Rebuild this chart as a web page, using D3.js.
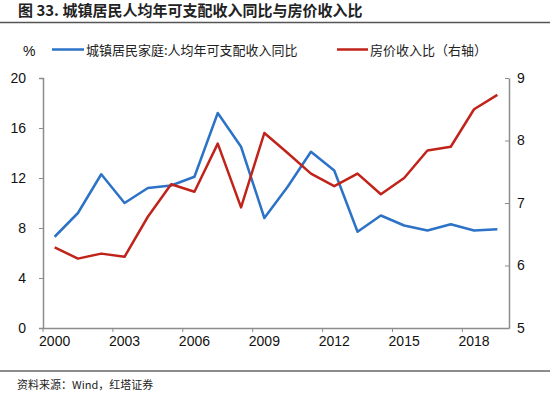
<!DOCTYPE html>
<html>
<head>
<meta charset="utf-8">
<script src="https://cdn.jsdelivr.net/npm/d3@7"></script>
<style>
body { margin: 0; background: #fff; }
svg text { font-family: "Liberation Sans", Arial, sans-serif; }
.cjk { font-family: "Noto Sans CJK SC", sans-serif; }
</style>
</head>
<body>
<svg id="chart" width="550" height="399"></svg>
<script>
// data
var years = d3.range(2000, 2020).map(String);
var tickYears = ['2000','2003','2006','2009','2012','2015','2018'];
var incomeGrowth = [7.3, 9.2, 12.3, 10.0, 11.2, 11.4, 12.1, 17.2, 14.5, 8.8,
                    11.3, 14.1, 12.6, 7.7, 9.0, 8.2, 7.8, 8.3, 7.8, 7.9];
var priceIncomeRatio = [6.29, 6.11, 6.19, 6.14, 6.78, 7.30, 7.18, 7.95, 6.93, 8.12,
                        7.80, 7.47, 7.27, 7.47, 7.14, 7.40, 7.84, 7.90, 8.50, 8.73];
var leftTicks = [0, 4, 8, 12, 16, 20];
var rightTicks = [5, 6, 7, 8, 9];

var colorBlue = '#2C72C7';
var colorRed = '#C0231A';
var colorAxis = '#8c8c8c';

var svg = d3.select('#chart');

var plotLeft = 43, plotRight = 509, plotTop = 78, plotBottom = 328;

var x = d3.scaleBand().domain(years).range([plotLeft, plotRight]);
var yL = d3.scaleLinear().domain([0, 20]).range([plotBottom, plotTop]);
var yR = d3.scaleLinear().domain([5, 9]).range([plotBottom, plotTop]);

// title
svg.append('text')
   .attr('class','cjk')
   .text('图 33. 城镇居民人均年可支配收入同比与房价收入比')
   .attr('x', 18)
   .attr('y', 16)
   .style('font-size', 15)
   .style('font-weight', 'bold')
   .style('fill', '#222');
svg.append('line')
   .attr('x1', 0).attr('x2', 550)
   .attr('y1', 22.5).attr('y2', 22.5)
   .attr('stroke', '#555')
   .attr('stroke-width', 1.5);

// legend
svg.append('text')
   .text('%')
   .attr('x', 23)
   .attr('y', 56)
   .style('font-size', 14)
   .style('fill', '#111');
svg.append('line')
   .attr('x1', 52).attr('x2', 84).attr('y1', 49.5).attr('y2', 49.5)
   .attr('stroke', colorBlue).attr('stroke-width', 2.5);
svg.append('text')
   .attr('class','cjk')
   .text('城镇居民家庭:人均年可支配收入同比')
   .attr('x', 86)
   .attr('y', 55)
   .style('font-size', 13)
   .style('fill', '#222');
svg.append('line')
   .attr('x1', 337).attr('x2', 368).attr('y1', 49.5).attr('y2', 49.5)
   .attr('stroke', colorRed).attr('stroke-width', 2.5);
svg.append('text')
   .attr('class','cjk')
   .text('房价收入比（右轴）')
   .attr('x', 370)
   .attr('y', 55)
   .style('font-size', 13)
   .style('fill', '#222');

// left axis
var axisL = svg.append('g')
               .attr('transform', 'translate(' + plotLeft + ',0)')
               .call(d3.axisLeft(yL).tickValues(leftTicks).tickSize(4).tickPadding(13));
// right axis
var axisR = svg.append('g')
               .attr('transform', 'translate(' + plotRight + ',0)')
               .call(d3.axisRight(yR).tickValues(rightTicks).tickFormat(d3.format('d')).tickSize(0).tickPadding(8));
axisR.selectAll('.tick').append('line')
     .attr('x1', -4).attr('x2', 0)
     .attr('stroke', colorAxis);
// bottom axis
var axisB = svg.append('g')
               .attr('transform', 'translate(0,' + plotBottom + ')')
               .call(d3.axisBottom(x).tickValues(tickYears).tickSize(0).tickPadding(8));
axisB.selectAll('.tick').append('line')
     .attr('x1', -x.bandwidth() / 2).attr('x2', -x.bandwidth() / 2)
     .attr('y1', 0).attr('y2', 4)
     .attr('stroke', colorAxis);

[axisL, axisR, axisB].forEach(function(a) {
  a.select('.domain').attr('stroke', colorAxis).attr('stroke-width', 1.5);
  a.selectAll('.tick line').attr('stroke', colorAxis);
  a.selectAll('.tick text')
   .style('font-size', 14)
   .style('font-family', '"Liberation Sans", Arial, sans-serif')
   .attr('fill', '#111');
});

// lines
var lineL = d3.line()
              .x(function(d, i) { return x(years[i]) + x.bandwidth() / 2; })
              .y(function(d) { return yL(d); });
var lineR = d3.line()
              .x(function(d, i) { return x(years[i]) + x.bandwidth() / 2; })
              .y(function(d) { return yR(d); });

svg.append('path')
   .datum(incomeGrowth)
   .attr('d', lineL)
   .attr('fill', 'none')
   .attr('stroke', colorBlue)
   .attr('stroke-width', 2.5)
   .attr('stroke-linejoin', 'round');

svg.append('path')
   .datum(priceIncomeRatio)
   .attr('d', lineR)
   .attr('fill', 'none')
   .attr('stroke', colorRed)
   .attr('stroke-width', 2.5)
   .attr('stroke-linejoin', 'round');

// footer
svg.append('line')
   .attr('x1', 0).attr('x2', 550)
   .attr('y1', 371).attr('y2', 371)
   .attr('stroke', '#666')
   .attr('stroke-width', 1.5);
svg.append('text')
   .attr('class','cjk')
   .text('资料来源：Wind，红塔证券')
   .attr('x', 17)
   .attr('y', 389)
   .style('font-size', 11)
   .style('fill', '#222');
</script>
</body>
</html>
